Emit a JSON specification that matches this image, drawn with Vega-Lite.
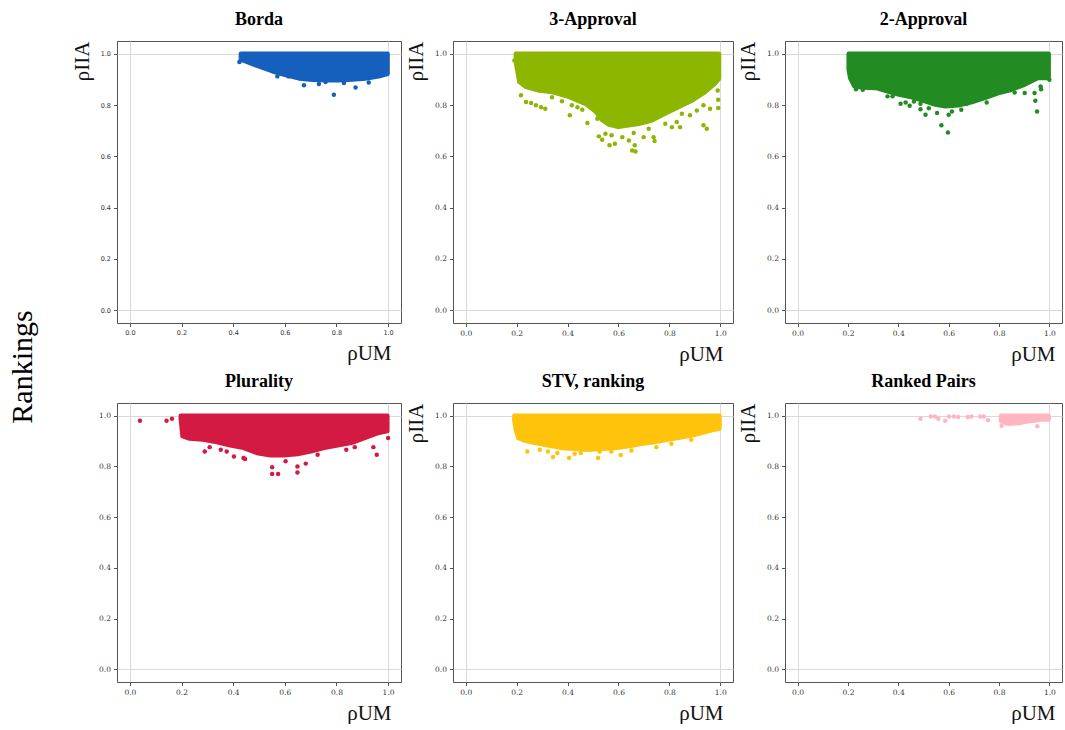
{
  "$schema": "https://vega.github.io/schema/vega-lite/v6.json",
  "background": "white",
  "padding": {"left": 7, "top": 10, "right": 0, "bottom": 0},
  "title": {"text": "Rankings", "orient": "left", "anchor": "middle", "fontSize": 30, "font": "Liberation Serif", "fontWeight": "normal", "color": "#000", "offset": 33},
  "data": {"name": "cloud"},
  "datasets": {
    "cloud": [
      {"method": "Borda", "kind": "env", "x": 0.43, "y": 0.978},
      {"method": "Borda", "kind": "env", "x": 0.449, "y": 0.97},
      {"method": "Borda", "kind": "env", "x": 0.5, "y": 0.951},
      {"method": "Borda", "kind": "env", "x": 0.552, "y": 0.932},
      {"method": "Borda", "kind": "env", "x": 0.604, "y": 0.917},
      {"method": "Borda", "kind": "env", "x": 0.655, "y": 0.904},
      {"method": "Borda", "kind": "env", "x": 0.707, "y": 0.899},
      {"method": "Borda", "kind": "env", "x": 0.758, "y": 0.897},
      {"method": "Borda", "kind": "env", "x": 0.81, "y": 0.897},
      {"method": "Borda", "kind": "env", "x": 0.861, "y": 0.9},
      {"method": "Borda", "kind": "env", "x": 0.912, "y": 0.904},
      {"method": "Borda", "kind": "env", "x": 0.964, "y": 0.912},
      {"method": "Borda", "kind": "env", "x": 0.998, "y": 0.922},
      {"method": "Borda", "kind": "pt", "x": 0.424, "y": 0.968},
      {"method": "Borda", "kind": "pt", "x": 0.43, "y": 0.975},
      {"method": "Borda", "kind": "pt", "x": 0.571, "y": 0.912},
      {"method": "Borda", "kind": "pt", "x": 0.614, "y": 0.912},
      {"method": "Borda", "kind": "pt", "x": 0.642, "y": 0.912},
      {"method": "Borda", "kind": "pt", "x": 0.674, "y": 0.877},
      {"method": "Borda", "kind": "pt", "x": 0.732, "y": 0.882},
      {"method": "Borda", "kind": "pt", "x": 0.758, "y": 0.89},
      {"method": "Borda", "kind": "pt", "x": 0.79, "y": 0.84},
      {"method": "Borda", "kind": "pt", "x": 0.829, "y": 0.886},
      {"method": "Borda", "kind": "pt", "x": 0.874, "y": 0.869},
      {"method": "Borda", "kind": "pt", "x": 0.925, "y": 0.888},

      {"method": "3-Approval", "kind": "env", "x": 0.197, "y": 0.968},
      {"method": "3-Approval", "kind": "env", "x": 0.211, "y": 0.89},
      {"method": "3-Approval", "kind": "env", "x": 0.237, "y": 0.871},
      {"method": "3-Approval", "kind": "env", "x": 0.289, "y": 0.857},
      {"method": "3-Approval", "kind": "env", "x": 0.341, "y": 0.851},
      {"method": "3-Approval", "kind": "env", "x": 0.406, "y": 0.832},
      {"method": "3-Approval", "kind": "env", "x": 0.471, "y": 0.805},
      {"method": "3-Approval", "kind": "env", "x": 0.51, "y": 0.775},
      {"method": "3-Approval", "kind": "env", "x": 0.535, "y": 0.742},
      {"method": "3-Approval", "kind": "env", "x": 0.5625, "y": 0.724},
      {"method": "3-Approval", "kind": "env", "x": 0.6, "y": 0.715},
      {"method": "3-Approval", "kind": "env", "x": 0.64, "y": 0.721},
      {"method": "3-Approval", "kind": "env", "x": 0.68, "y": 0.727},
      {"method": "3-Approval", "kind": "env", "x": 0.732, "y": 0.741},
      {"method": "3-Approval", "kind": "env", "x": 0.784, "y": 0.767},
      {"method": "3-Approval", "kind": "env", "x": 0.836, "y": 0.793},
      {"method": "3-Approval", "kind": "env", "x": 0.888, "y": 0.817},
      {"method": "3-Approval", "kind": "env", "x": 0.94, "y": 0.851},
      {"method": "3-Approval", "kind": "env", "x": 0.979, "y": 0.884},
      {"method": "3-Approval", "kind": "env", "x": 0.995, "y": 0.903},
      {"method": "3-Approval", "kind": "pt", "x": 0.191, "y": 0.974},
      {"method": "3-Approval", "kind": "pt", "x": 0.217, "y": 0.838},
      {"method": "3-Approval", "kind": "pt", "x": 0.237, "y": 0.812},
      {"method": "3-Approval", "kind": "pt", "x": 0.257, "y": 0.808},
      {"method": "3-Approval", "kind": "pt", "x": 0.276, "y": 0.799},
      {"method": "3-Approval", "kind": "pt", "x": 0.296, "y": 0.792},
      {"method": "3-Approval", "kind": "pt", "x": 0.3125, "y": 0.786},
      {"method": "3-Approval", "kind": "pt", "x": 0.339, "y": 0.831},
      {"method": "3-Approval", "kind": "pt", "x": 0.378, "y": 0.815},
      {"method": "3-Approval", "kind": "pt", "x": 0.409, "y": 0.76},
      {"method": "3-Approval", "kind": "pt", "x": 0.417, "y": 0.799},
      {"method": "3-Approval", "kind": "pt", "x": 0.439, "y": 0.792},
      {"method": "3-Approval", "kind": "pt", "x": 0.458, "y": 0.782},
      {"method": "3-Approval", "kind": "pt", "x": 0.478, "y": 0.73},
      {"method": "3-Approval", "kind": "pt", "x": 0.517, "y": 0.747},
      {"method": "3-Approval", "kind": "pt", "x": 0.523, "y": 0.678},
      {"method": "3-Approval", "kind": "pt", "x": 0.536, "y": 0.665},
      {"method": "3-Approval", "kind": "pt", "x": 0.549, "y": 0.688},
      {"method": "3-Approval", "kind": "pt", "x": 0.565, "y": 0.643},
      {"method": "3-Approval", "kind": "pt", "x": 0.586, "y": 0.649},
      {"method": "3-Approval", "kind": "pt", "x": 0.573, "y": 0.682},
      {"method": "3-Approval", "kind": "pt", "x": 0.615, "y": 0.675},
      {"method": "3-Approval", "kind": "pt", "x": 0.641, "y": 0.662},
      {"method": "3-Approval", "kind": "pt", "x": 0.66, "y": 0.691},
      {"method": "3-Approval", "kind": "pt", "x": 0.664, "y": 0.643},
      {"method": "3-Approval", "kind": "pt", "x": 0.654, "y": 0.623},
      {"method": "3-Approval", "kind": "pt", "x": 0.667, "y": 0.619},
      {"method": "3-Approval", "kind": "pt", "x": 0.699, "y": 0.675},
      {"method": "3-Approval", "kind": "pt", "x": 0.719, "y": 0.708},
      {"method": "3-Approval", "kind": "pt", "x": 0.738, "y": 0.675},
      {"method": "3-Approval", "kind": "pt", "x": 0.742, "y": 0.66},
      {"method": "3-Approval", "kind": "pt", "x": 0.784, "y": 0.727},
      {"method": "3-Approval", "kind": "pt", "x": 0.81, "y": 0.714},
      {"method": "3-Approval", "kind": "pt", "x": 0.829, "y": 0.734},
      {"method": "3-Approval", "kind": "pt", "x": 0.842, "y": 0.714},
      {"method": "3-Approval", "kind": "pt", "x": 0.849, "y": 0.766},
      {"method": "3-Approval", "kind": "pt", "x": 0.881, "y": 0.76},
      {"method": "3-Approval", "kind": "pt", "x": 0.908, "y": 0.779},
      {"method": "3-Approval", "kind": "pt", "x": 0.934, "y": 0.799},
      {"method": "3-Approval", "kind": "pt", "x": 0.934, "y": 0.721},
      {"method": "3-Approval", "kind": "pt", "x": 0.947, "y": 0.708},
      {"method": "3-Approval", "kind": "pt", "x": 0.96, "y": 0.786},
      {"method": "3-Approval", "kind": "pt", "x": 0.992, "y": 0.821},
      {"method": "3-Approval", "kind": "pt", "x": 0.992, "y": 0.789},
      {"method": "3-Approval", "kind": "pt", "x": 0.99, "y": 0.857},

      {"method": "2-Approval", "kind": "env", "x": 0.203, "y": 0.938},
      {"method": "2-Approval", "kind": "env", "x": 0.209, "y": 0.906},
      {"method": "2-Approval", "kind": "env", "x": 0.226, "y": 0.873},
      {"method": "2-Approval", "kind": "env", "x": 0.259, "y": 0.869},
      {"method": "2-Approval", "kind": "env", "x": 0.311, "y": 0.867},
      {"method": "2-Approval", "kind": "env", "x": 0.35, "y": 0.856},
      {"method": "2-Approval", "kind": "env", "x": 0.403, "y": 0.841},
      {"method": "2-Approval", "kind": "env", "x": 0.455, "y": 0.83},
      {"method": "2-Approval", "kind": "env", "x": 0.508, "y": 0.815},
      {"method": "2-Approval", "kind": "env", "x": 0.547, "y": 0.802},
      {"method": "2-Approval", "kind": "env", "x": 0.587, "y": 0.795},
      {"method": "2-Approval", "kind": "env", "x": 0.639, "y": 0.799},
      {"method": "2-Approval", "kind": "env", "x": 0.692, "y": 0.812},
      {"method": "2-Approval", "kind": "env", "x": 0.744, "y": 0.828},
      {"method": "2-Approval", "kind": "env", "x": 0.797, "y": 0.847},
      {"method": "2-Approval", "kind": "env", "x": 0.849, "y": 0.86},
      {"method": "2-Approval", "kind": "env", "x": 0.902, "y": 0.88},
      {"method": "2-Approval", "kind": "env", "x": 0.954, "y": 0.906},
      {"method": "2-Approval", "kind": "env", "x": 0.993, "y": 0.906},
      {"method": "2-Approval", "kind": "env", "x": 0.997, "y": 0.91},
      {"method": "2-Approval", "kind": "pt", "x": 0.232, "y": 0.862},
      {"method": "2-Approval", "kind": "pt", "x": 0.259, "y": 0.86},
      {"method": "2-Approval", "kind": "pt", "x": 0.357, "y": 0.834},
      {"method": "2-Approval", "kind": "pt", "x": 0.377, "y": 0.834},
      {"method": "2-Approval", "kind": "pt", "x": 0.409, "y": 0.805},
      {"method": "2-Approval", "kind": "pt", "x": 0.429, "y": 0.81},
      {"method": "2-Approval", "kind": "pt", "x": 0.445, "y": 0.797},
      {"method": "2-Approval", "kind": "pt", "x": 0.462, "y": 0.814},
      {"method": "2-Approval", "kind": "pt", "x": 0.488, "y": 0.805},
      {"method": "2-Approval", "kind": "pt", "x": 0.488, "y": 0.784},
      {"method": "2-Approval", "kind": "pt", "x": 0.508, "y": 0.762},
      {"method": "2-Approval", "kind": "pt", "x": 0.521, "y": 0.788},
      {"method": "2-Approval", "kind": "pt", "x": 0.554, "y": 0.769},
      {"method": "2-Approval", "kind": "pt", "x": 0.571, "y": 0.721},
      {"method": "2-Approval", "kind": "pt", "x": 0.597, "y": 0.693},
      {"method": "2-Approval", "kind": "pt", "x": 0.6, "y": 0.762},
      {"method": "2-Approval", "kind": "pt", "x": 0.613, "y": 0.775},
      {"method": "2-Approval", "kind": "pt", "x": 0.65, "y": 0.782},
      {"method": "2-Approval", "kind": "pt", "x": 0.672, "y": 0.805},
      {"method": "2-Approval", "kind": "pt", "x": 0.751, "y": 0.81},
      {"method": "2-Approval", "kind": "pt", "x": 0.862, "y": 0.849},
      {"method": "2-Approval", "kind": "pt", "x": 0.902, "y": 0.847},
      {"method": "2-Approval", "kind": "pt", "x": 0.941, "y": 0.847},
      {"method": "2-Approval", "kind": "pt", "x": 0.944, "y": 0.817},
      {"method": "2-Approval", "kind": "pt", "x": 0.951, "y": 0.775},
      {"method": "2-Approval", "kind": "pt", "x": 0.965, "y": 0.873},
      {"method": "2-Approval", "kind": "pt", "x": 0.967, "y": 0.862},
      {"method": "2-Approval", "kind": "pt", "x": 1.0, "y": 0.899},

      {"method": "Plurality", "kind": "env", "x": 0.197, "y": 0.99},
      {"method": "Plurality", "kind": "env", "x": 0.204, "y": 0.919},
      {"method": "Plurality", "kind": "env", "x": 0.231, "y": 0.91},
      {"method": "Plurality", "kind": "env", "x": 0.283, "y": 0.906},
      {"method": "Plurality", "kind": "env", "x": 0.336, "y": 0.896},
      {"method": "Plurality", "kind": "env", "x": 0.388, "y": 0.883},
      {"method": "Plurality", "kind": "env", "x": 0.44, "y": 0.873},
      {"method": "Plurality", "kind": "env", "x": 0.492, "y": 0.853},
      {"method": "Plurality", "kind": "env", "x": 0.544, "y": 0.844},
      {"method": "Plurality", "kind": "env", "x": 0.597, "y": 0.844},
      {"method": "Plurality", "kind": "env", "x": 0.649, "y": 0.849},
      {"method": "Plurality", "kind": "env", "x": 0.701, "y": 0.86},
      {"method": "Plurality", "kind": "env", "x": 0.753, "y": 0.873},
      {"method": "Plurality", "kind": "env", "x": 0.805, "y": 0.883},
      {"method": "Plurality", "kind": "env", "x": 0.858, "y": 0.893},
      {"method": "Plurality", "kind": "env", "x": 0.91, "y": 0.912},
      {"method": "Plurality", "kind": "env", "x": 0.962, "y": 0.932},
      {"method": "Plurality", "kind": "env", "x": 0.997, "y": 0.939},
      {"method": "Plurality", "kind": "pt", "x": 0.039, "y": 0.98},
      {"method": "Plurality", "kind": "pt", "x": 0.142, "y": 0.98},
      {"method": "Plurality", "kind": "pt", "x": 0.163, "y": 0.988},
      {"method": "Plurality", "kind": "pt", "x": 0.29, "y": 0.859},
      {"method": "Plurality", "kind": "pt", "x": 0.309, "y": 0.876},
      {"method": "Plurality", "kind": "pt", "x": 0.352, "y": 0.866},
      {"method": "Plurality", "kind": "pt", "x": 0.375, "y": 0.859},
      {"method": "Plurality", "kind": "pt", "x": 0.403, "y": 0.839},
      {"method": "Plurality", "kind": "pt", "x": 0.44, "y": 0.833},
      {"method": "Plurality", "kind": "pt", "x": 0.446, "y": 0.829},
      {"method": "Plurality", "kind": "pt", "x": 0.551, "y": 0.797},
      {"method": "Plurality", "kind": "pt", "x": 0.551, "y": 0.77},
      {"method": "Plurality", "kind": "pt", "x": 0.574, "y": 0.77},
      {"method": "Plurality", "kind": "pt", "x": 0.603, "y": 0.82},
      {"method": "Plurality", "kind": "pt", "x": 0.649, "y": 0.8},
      {"method": "Plurality", "kind": "pt", "x": 0.649, "y": 0.776},
      {"method": "Plurality", "kind": "pt", "x": 0.681, "y": 0.811},
      {"method": "Plurality", "kind": "pt", "x": 0.727, "y": 0.846},
      {"method": "Plurality", "kind": "pt", "x": 0.838, "y": 0.866},
      {"method": "Plurality", "kind": "pt", "x": 0.871, "y": 0.876},
      {"method": "Plurality", "kind": "pt", "x": 0.943, "y": 0.876},
      {"method": "Plurality", "kind": "pt", "x": 0.956, "y": 0.846},
      {"method": "Plurality", "kind": "pt", "x": 1.0, "y": 0.912},

      {"method": "STV, ranking", "kind": "env", "x": 0.191, "y": 0.981},
      {"method": "STV, ranking", "kind": "env", "x": 0.197, "y": 0.945},
      {"method": "STV, ranking", "kind": "env", "x": 0.207, "y": 0.912},
      {"method": "STV, ranking", "kind": "env", "x": 0.232, "y": 0.902},
      {"method": "STV, ranking", "kind": "env", "x": 0.271, "y": 0.893},
      {"method": "STV, ranking", "kind": "env", "x": 0.323, "y": 0.883},
      {"method": "STV, ranking", "kind": "env", "x": 0.376, "y": 0.873},
      {"method": "STV, ranking", "kind": "env", "x": 0.428, "y": 0.87},
      {"method": "STV, ranking", "kind": "env", "x": 0.48, "y": 0.866},
      {"method": "STV, ranking", "kind": "env", "x": 0.533, "y": 0.87},
      {"method": "STV, ranking", "kind": "env", "x": 0.585, "y": 0.873},
      {"method": "STV, ranking", "kind": "env", "x": 0.637, "y": 0.879},
      {"method": "STV, ranking", "kind": "env", "x": 0.69, "y": 0.889},
      {"method": "STV, ranking", "kind": "env", "x": 0.742, "y": 0.896},
      {"method": "STV, ranking", "kind": "env", "x": 0.795, "y": 0.906},
      {"method": "STV, ranking", "kind": "env", "x": 0.847, "y": 0.915},
      {"method": "STV, ranking", "kind": "env", "x": 0.899, "y": 0.925},
      {"method": "STV, ranking", "kind": "env", "x": 0.952, "y": 0.939},
      {"method": "STV, ranking", "kind": "env", "x": 0.997, "y": 0.949},
      {"method": "STV, ranking", "kind": "pt", "x": 0.242, "y": 0.859},
      {"method": "STV, ranking", "kind": "pt", "x": 0.291, "y": 0.866},
      {"method": "STV, ranking", "kind": "pt", "x": 0.323, "y": 0.859},
      {"method": "STV, ranking", "kind": "pt", "x": 0.343, "y": 0.837},
      {"method": "STV, ranking", "kind": "pt", "x": 0.36, "y": 0.853},
      {"method": "STV, ranking", "kind": "pt", "x": 0.406, "y": 0.833},
      {"method": "STV, ranking", "kind": "pt", "x": 0.428, "y": 0.85},
      {"method": "STV, ranking", "kind": "pt", "x": 0.452, "y": 0.853},
      {"method": "STV, ranking", "kind": "pt", "x": 0.52, "y": 0.833},
      {"method": "STV, ranking", "kind": "pt", "x": 0.526, "y": 0.859},
      {"method": "STV, ranking", "kind": "pt", "x": 0.572, "y": 0.859},
      {"method": "STV, ranking", "kind": "pt", "x": 0.609, "y": 0.845},
      {"method": "STV, ranking", "kind": "pt", "x": 0.651, "y": 0.863},
      {"method": "STV, ranking", "kind": "pt", "x": 0.749, "y": 0.876},
      {"method": "STV, ranking", "kind": "pt", "x": 0.808, "y": 0.889},
      {"method": "STV, ranking", "kind": "pt", "x": 0.886, "y": 0.905},

      {"method": "Ranked Pairs", "kind": "env", "x": 0.808, "y": 0.978},
      {"method": "Ranked Pairs", "kind": "env", "x": 0.837, "y": 0.968},
      {"method": "Ranked Pairs", "kind": "env", "x": 0.876, "y": 0.971},
      {"method": "Ranked Pairs", "kind": "env", "x": 0.915, "y": 0.978},
      {"method": "Ranked Pairs", "kind": "env", "x": 0.941, "y": 0.981},
      {"method": "Ranked Pairs", "kind": "env", "x": 0.967, "y": 0.985},
      {"method": "Ranked Pairs", "kind": "env", "x": 0.997, "y": 0.985},
      {"method": "Ranked Pairs", "kind": "pt", "x": 0.488, "y": 0.988},
      {"method": "Ranked Pairs", "kind": "pt", "x": 0.529, "y": 0.997},
      {"method": "Ranked Pairs", "kind": "pt", "x": 0.546, "y": 0.997},
      {"method": "Ranked Pairs", "kind": "pt", "x": 0.559, "y": 0.988},
      {"method": "Ranked Pairs", "kind": "pt", "x": 0.586, "y": 0.98},
      {"method": "Ranked Pairs", "kind": "pt", "x": 0.601, "y": 0.997},
      {"method": "Ranked Pairs", "kind": "pt", "x": 0.621, "y": 0.997},
      {"method": "Ranked Pairs", "kind": "pt", "x": 0.638, "y": 0.995},
      {"method": "Ranked Pairs", "kind": "pt", "x": 0.676, "y": 0.995},
      {"method": "Ranked Pairs", "kind": "pt", "x": 0.69, "y": 0.997},
      {"method": "Ranked Pairs", "kind": "pt", "x": 0.725, "y": 0.997},
      {"method": "Ranked Pairs", "kind": "pt", "x": 0.739, "y": 0.997},
      {"method": "Ranked Pairs", "kind": "pt", "x": 0.756, "y": 0.982},
      {"method": "Ranked Pairs", "kind": "pt", "x": 0.81, "y": 0.96},
      {"method": "Ranked Pairs", "kind": "pt", "x": 0.952, "y": 0.958}
    ]
  },
  "spacing": 7,
  "vconcat": [
    {
      "spacing": 3,
      "hconcat": [
        {
          "width": 284, "height": 282,
          "title": "Borda",
          "transform": [{"filter": "datum.method === 'Borda'"}],
          "encoding": {
            "x": {"field": "x", "type": "quantitative", "scale": {"domain": [-0.05, 1.05], "nice": false, "zero": false},
                  "axis": {"values": [0, 0.2, 0.4, 0.6, 0.8, 1], "format": ".1f", "title": "ρUM", "titleX": 274, "titlePadding": 6, "labelFont": "DejaVu Sans", "labelFontSize": 6.5,
                           "gridOpacity": {"condition": {"test": "datum.value === 0 || datum.value === 1", "value": 1}, "value": 0}}},
            "y": {"field": "y", "type": "quantitative", "scale": {"domain": [-0.05, 1.05], "nice": false, "zero": false},
                  "axis": {"values": [0, 0.2, 0.4, 0.6, 0.8, 1], "format": ".1f", "title": "ρIIA", "titleAnchor": "end", "titlePadding": 8, "labelFont": "DejaVu Sans", "labelFontSize": 6.5,
                           "gridOpacity": {"condition": {"test": "datum.value === 0 || datum.value === 1", "value": 1}, "value": 0}}}
          },
          "layer": [
            {"transform": [{"filter": "datum.kind === 'env'"}], "mark": {"type": "area", "color": "#1560bd", "stroke": "#1560bd", "strokeWidth": 4.5, "strokeJoin": "round", "opacity": 1}, "encoding": {"y2": {"datum": 1}}},
            {"transform": [{"filter": "datum.kind === 'pt'"}], "mark": {"type": "circle", "color": "#1560bd", "size": 20, "opacity": 1}}
          ]
        },
        {
          "width": 280, "height": 282,
          "title": "3-Approval",
          "transform": [{"filter": "datum.method === '3-Approval'"}],
          "encoding": {
            "x": {"field": "x", "type": "quantitative", "scale": {"domain": [-0.05, 1.05], "nice": false, "zero": false},
                  "axis": {"values": [0, 0.2, 0.4, 0.6, 0.8, 1], "format": ".1f", "title": "ρUM", "titleX": 270, "titlePadding": 6,
                           "gridOpacity": {"condition": {"test": "datum.value === 0 || datum.value === 1", "value": 1}, "value": 0}}},
            "y": {"field": "y", "type": "quantitative", "scale": {"domain": [-0.05, 1.05], "nice": false, "zero": false},
                  "axis": {"values": [0, 0.2, 0.4, 0.6, 0.8, 1], "format": ".1f", "title": "ρIIA", "titleAnchor": "end", "titlePadding": 8,
                           "gridOpacity": {"condition": {"test": "datum.value === 0 || datum.value === 1", "value": 1}, "value": 0}}}
          },
          "layer": [
            {"transform": [{"filter": "datum.kind === 'env'"}], "mark": {"type": "area", "color": "#8db600", "stroke": "#8db600", "strokeWidth": 4.5, "strokeJoin": "round", "opacity": 1}, "encoding": {"y2": {"datum": 1}}},
            {"transform": [{"filter": "datum.kind === 'pt'"}], "mark": {"type": "circle", "color": "#8db600", "size": 20, "opacity": 1}}
          ]
        },
        {
          "width": 277, "height": 282,
          "title": "2-Approval",
          "transform": [{"filter": "datum.method === '2-Approval'"}],
          "encoding": {
            "x": {"field": "x", "type": "quantitative", "scale": {"domain": [-0.05, 1.05], "nice": false, "zero": false},
                  "axis": {"values": [0, 0.2, 0.4, 0.6, 0.8, 1], "format": ".1f", "title": "ρUM", "titleX": 270, "titlePadding": 6,
                           "gridOpacity": {"condition": {"test": "datum.value === 0 || datum.value === 1", "value": 1}, "value": 0}}},
            "y": {"field": "y", "type": "quantitative", "scale": {"domain": [-0.05, 1.05], "nice": false, "zero": false},
                  "axis": {"values": [0, 0.2, 0.4, 0.6, 0.8, 1], "format": ".1f", "title": "ρIIA", "titleAnchor": "end", "titlePadding": 8,
                           "gridOpacity": {"condition": {"test": "datum.value === 0 || datum.value === 1", "value": 1}, "value": 0}}}
          },
          "layer": [
            {"transform": [{"filter": "datum.kind === 'env'"}], "mark": {"type": "area", "color": "#228b22", "stroke": "#228b22", "strokeWidth": 4.5, "strokeJoin": "round", "opacity": 1}, "encoding": {"y2": {"datum": 1}}},
            {"transform": [{"filter": "datum.kind === 'pt'"}], "mark": {"type": "circle", "color": "#228b22", "size": 20, "opacity": 1}}
          ]
        }
      ]
    },
    {
      "spacing": 3,
      "hconcat": [
        {
          "width": 284, "height": 279,
          "title": "Plurality",
          "transform": [{"filter": "datum.method === 'Plurality'"}],
          "encoding": {
            "x": {"field": "x", "type": "quantitative", "scale": {"domain": [-0.05, 1.05], "nice": false, "zero": false},
                  "axis": {"values": [0, 0.2, 0.4, 0.6, 0.8, 1], "format": ".1f", "title": "ρUM", "titleX": 274, "titlePadding": 6,
                           "gridOpacity": {"condition": {"test": "datum.value === 0 || datum.value === 1", "value": 1}, "value": 0}}},
            "y": {"field": "y", "type": "quantitative", "scale": {"domain": [-0.05, 1.05], "nice": false, "zero": false},
                  "axis": {"values": [0, 0.2, 0.4, 0.6, 0.8, 1], "format": ".1f", "title": null,
                           "gridOpacity": {"condition": {"test": "datum.value === 0 || datum.value === 1", "value": 1}, "value": 0}}}
          },
          "layer": [
            {"transform": [{"filter": "datum.kind === 'env'"}], "mark": {"type": "area", "color": "#d21a42", "stroke": "#d21a42", "strokeWidth": 4.5, "strokeJoin": "round", "opacity": 1}, "encoding": {"y2": {"datum": 1}}},
            {"transform": [{"filter": "datum.kind === 'pt'"}], "mark": {"type": "circle", "color": "#d21a42", "size": 20, "opacity": 1}}
          ]
        },
        {
          "width": 280, "height": 279,
          "title": "STV, ranking",
          "transform": [{"filter": "datum.method === 'STV, ranking'"}],
          "encoding": {
            "x": {"field": "x", "type": "quantitative", "scale": {"domain": [-0.05, 1.05], "nice": false, "zero": false},
                  "axis": {"values": [0, 0.2, 0.4, 0.6, 0.8, 1], "format": ".1f", "title": "ρUM", "titleX": 270, "titlePadding": 6,
                           "gridOpacity": {"condition": {"test": "datum.value === 0 || datum.value === 1", "value": 1}, "value": 0}}},
            "y": {"field": "y", "type": "quantitative", "scale": {"domain": [-0.05, 1.05], "nice": false, "zero": false},
                  "axis": {"values": [0, 0.2, 0.4, 0.6, 0.8, 1], "format": ".1f", "title": "ρIIA", "titleAnchor": "end", "titlePadding": 8,
                           "gridOpacity": {"condition": {"test": "datum.value === 0 || datum.value === 1", "value": 1}, "value": 0}}}
          },
          "layer": [
            {"transform": [{"filter": "datum.kind === 'env'"}], "mark": {"type": "area", "color": "#ffc30b", "stroke": "#ffc30b", "strokeWidth": 4.5, "strokeJoin": "round", "opacity": 1}, "encoding": {"y2": {"datum": 1}}},
            {"transform": [{"filter": "datum.kind === 'pt'"}], "mark": {"type": "circle", "color": "#ffc30b", "size": 20, "opacity": 1}}
          ]
        },
        {
          "width": 277, "height": 279,
          "title": "Ranked Pairs",
          "transform": [{"filter": "datum.method === 'Ranked Pairs'"}],
          "encoding": {
            "x": {"field": "x", "type": "quantitative", "scale": {"domain": [-0.05, 1.05], "nice": false, "zero": false},
                  "axis": {"values": [0, 0.2, 0.4, 0.6, 0.8, 1], "format": ".1f", "title": "ρUM", "titleX": 270, "titlePadding": 6,
                           "gridOpacity": {"condition": {"test": "datum.value === 0 || datum.value === 1", "value": 1}, "value": 0}}},
            "y": {"field": "y", "type": "quantitative", "scale": {"domain": [-0.05, 1.05], "nice": false, "zero": false},
                  "axis": {"values": [0, 0.2, 0.4, 0.6, 0.8, 1], "format": ".1f", "title": "ρIIA", "titleAnchor": "end", "titlePadding": 8,
                           "gridOpacity": {"condition": {"test": "datum.value === 0 || datum.value === 1", "value": 1}, "value": 0}}}
          },
          "layer": [
            {"transform": [{"filter": "datum.kind === 'env'"}], "mark": {"type": "area", "color": "#ffb6c1", "stroke": "#ffb6c1", "strokeWidth": 4.5, "strokeJoin": "round", "opacity": 1}, "encoding": {"y2": {"datum": 1}}},
            {"transform": [{"filter": "datum.kind === 'pt'"}], "mark": {"type": "circle", "color": "#ffb6c1", "size": 20, "opacity": 1}}
          ]
        }
      ]
    }
  ],
  "config": {
    "view": {"stroke": "#555555", "strokeWidth": 1},
    "axis": {
      "domain": false,
      "ticks": true,
      "tickColor": "#555555",
      "tickSize": 3.5,
      "labelFont": "DejaVu Serif",
      "labelFontSize": 7.5,
      "labelColor": "#333333",
      "labelPadding": 3,
      "titleFont": "Liberation Serif",
      "titleFontSize": 21,
      "titleFontWeight": "normal",
      "titleColor": "#111111",
      "titleAlign": "right",
      "gridColor": "#d9d9d9",
      "gridWidth": 1
    },
    "title": {"font": "Liberation Serif", "fontSize": 18, "fontWeight": "bold", "color": "#000000", "offset": 12}
  }
}
